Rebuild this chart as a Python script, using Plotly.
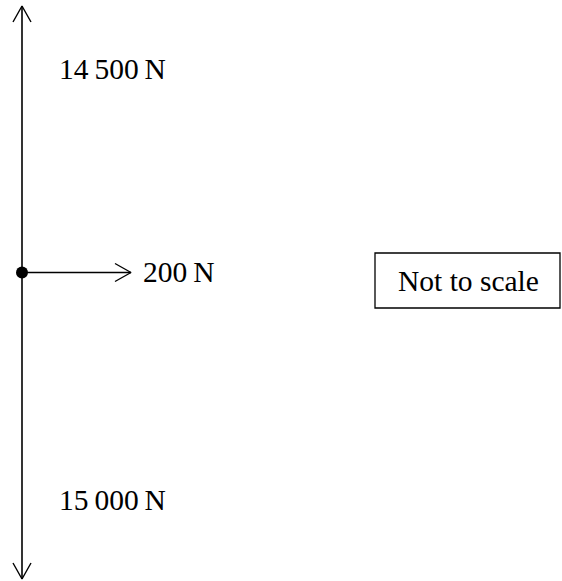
import plotly.graph_objects as go

# Force diagram data
force_labels = ["14\u2009500\u2009N", "200\u2009N", "15\u2009000\u2009N"]
force_dirs = ["up", "right", "down"]
note_text = "Not to scale"

W, H = 562, 581
origin = (22, 272.5)
arrow_len = {"up": 266.5, "right": 109, "down": 306.5}
head_len, head_half = 16, 9
label_pos = {"up": (57, 69), "right": (141, 272), "down": (57, 500)}
FONT = dict(family="Liberation Serif", size=29.5, color="black")

fig = go.Figure()
ox, oy = origin
vec = {"up": (0, -1), "right": (1, 0), "down": (0, 1)}
for lab, d in zip(force_labels, force_dirs):
    dx, dy = vec[d]
    L = arrow_len[d]
    tx, ty = ox + dx * L, oy + dy * L
    fig.add_trace(go.Scatter(x=[ox, tx], y=[oy, ty], mode="lines",
                             line=dict(color="black", width=1.6), hoverinfo="skip"))
    # chevron head
    bx, by = tx - dx * head_len, ty - dy * head_len
    px, py = -dy * head_half, dx * head_half
    fig.add_trace(go.Scatter(x=[bx + px, tx, bx - px], y=[by + py, ty, by - py], mode="lines",
                             line=dict(color="black", width=1.4), hoverinfo="skip"))
    lx, ly = label_pos[d]
    fig.add_annotation(x=lx, y=ly, text=lab, showarrow=False, xanchor="left", yanchor="middle",
                       font=FONT)

fig.add_trace(go.Scatter(x=[ox], y=[oy], mode="markers",
                         marker=dict(color="black", size=12), hoverinfo="skip"))

fig.add_shape(type="rect", x0=375, x1=560, y0=253, y1=308,
              line=dict(color="black", width=1.3), fillcolor="rgba(0,0,0,0)")
fig.add_annotation(x=468, y=281, text=note_text, showarrow=False, xanchor="center", yanchor="middle",
                   font=FONT)

fig.update_layout(width=W, height=H, autosize=False, showlegend=False,
                  margin=dict(l=0, r=0, t=0, b=0),
                  paper_bgcolor="white", plot_bgcolor="white",
                  xaxis=dict(range=[0, W], visible=False, fixedrange=True),
                  yaxis=dict(range=[H, 0], visible=False, fixedrange=True))

fig.write_html("out.html", config={"displayModeBar": False},
               post_script="document.body.style.margin='0';document.body.style.overflow='hidden';")
